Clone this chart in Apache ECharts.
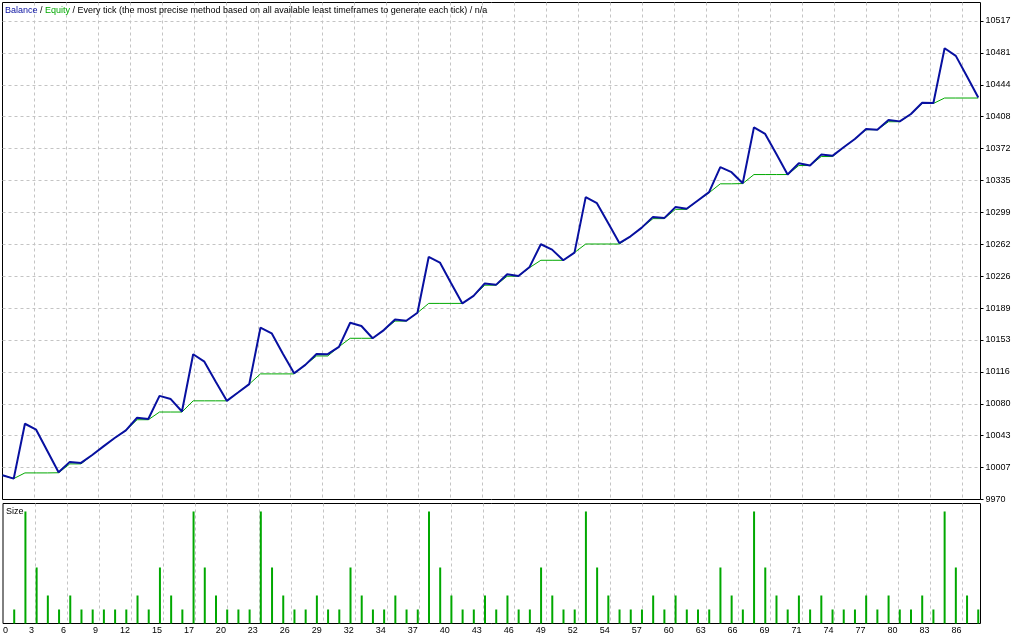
<!DOCTYPE html>
<html><head><meta charset="utf-8">
<script src="https://cdn.jsdelivr.net/npm/echarts@6/dist/echarts.min.js"></script>
<style>html,body{margin:0;padding:0;background:#fff;overflow:hidden}#c{width:1024px;height:640px}</style>
</head><body><div id="c"></div>
<script>
const titleParts = ['Balance', 'Equity', 'Every tick (the most precise method based on all available least timeframes to generate each tick)', 'n/a'];
const sizeLabel = 'Size';

const balance = [9998.0, 9994.2, 10056.9, 10050.1, 10025.8, 10001.4, 10013.3, 10012.1, 10021.2, 10031.0,
  10040.6, 10049.3, 10063.8, 10062.3, 10088.8, 10085.1, 10070.9, 10136.4, 10127.9, 10105.1,
  10083.1, 10092.6, 10102.2, 10166.7, 10160.3, 10137.0, 10114.7, 10124.2, 10136.7, 10136.4,
  10144.7, 10172.4, 10168.6, 10154.6, 10164.0, 10176.2, 10174.6, 10183.8, 10247.6, 10241.2,
  10217.6, 10194.5, 10203.1, 10217.3, 10215.7, 10227.9, 10225.9, 10236.2, 10262.1, 10256.0,
  10243.8, 10252.6, 10316.0, 10309.1, 10286.3, 10263.5, 10271.2, 10281.1, 10293.4, 10292.0,
  10304.6, 10302.7, 10312.2, 10321.7, 10350.2, 10344.5, 10331.9, 10395.7, 10388.2, 10365.4,
  10341.8, 10354.7, 10352.1, 10364.6, 10363.2, 10373.0, 10382.5, 10393.9, 10393.1, 10404.2,
  10402.6, 10411.0, 10423.9, 10423.6, 10486.2, 10477.5, 10453.9, 10429.9];

const equity = [9998.0, 9994.2, 10000.7, 10000.7, 10000.7, 10000.9, 10011.0, 10011.0, 10021.2, 10031.0,
  10040.6, 10049.3, 10061.5, 10061.5, 10070.3, 10070.3, 10070.3, 10083.1, 10083.1, 10083.1,
  10083.1, 10092.6, 10102.2, 10113.9, 10113.9, 10113.9, 10113.9, 10124.2, 10134.4, 10134.4,
  10145.0, 10154.6, 10154.6, 10154.6, 10164.0, 10174.3, 10174.3, 10183.8, 10194.5, 10194.5,
  10194.5, 10194.5, 10203.1, 10215.3, 10215.3, 10225.6, 10225.6, 10235.5, 10243.8, 10243.8,
  10243.8, 10252.6, 10262.4, 10262.4, 10262.4, 10262.4, 10271.2, 10281.1, 10291.4, 10291.4,
  10302.0, 10302.0, 10312.2, 10321.0, 10331.2, 10331.2, 10331.5, 10341.8, 10341.8, 10341.8,
  10341.8, 10352.1, 10352.1, 10362.4, 10362.4, 10373.0, 10382.5, 10393.1, 10393.1, 10402.2,
  10402.2, 10411.0, 10423.1, 10423.1, 10429.3, 10429.3, 10429.3, 10429.3];

const sizes = [null, 0.01, 0.08, 0.04, 0.02, 0.01, 0.02, 0.01, 0.01, 0.01,
  0.01, 0.01, 0.02, 0.01, 0.04, 0.02, 0.01, 0.08, 0.04, 0.02,
  0.01, 0.01, 0.01, 0.08, 0.04, 0.02, 0.01, 0.01, 0.02, 0.01,
  0.01, 0.04, 0.02, 0.01, 0.01, 0.02, 0.01, 0.01, 0.08, 0.04,
  0.02, 0.01, 0.01, 0.02, 0.01, 0.02, 0.01, 0.01, 0.04, 0.02,
  0.01, 0.01, 0.08, 0.04, 0.02, 0.01, 0.01, 0.01, 0.02, 0.01,
  0.02, 0.01, 0.01, 0.01, 0.04, 0.02, 0.01, 0.08, 0.04, 0.02,
  0.01, 0.02, 0.01, 0.02, 0.01, 0.01, 0.01, 0.02, 0.01, 0.02,
  0.01, 0.01, 0.02, 0.01, 0.08, 0.04, 0.02, 0.01];

const xTickLabels = ['0','3','6','9','12','15','17','20','23','26','29','32','34','37','40','43','46','49','52','54','57','60','63','66','69','71','74','77','80','83','86'];
const yTickLabels = ['9970','10007','10043','10080','10116','10153','10189','10226','10262','10299','10335','10372','10408','10444','10481','10517'];

// scale settings
const yMin = 9970.3, yStep = 36.47, mainH = 497, tickPxY = 31.9;
const yMax = yMin + yStep * mainH / tickPxY;
const plotW = 978, xMax = 87.2, tickPxX = 32;
const xStep = tickPxX * xMax / plotW;

const BLUE = '#0810a0', GREEN = '#00a800', GRID = '#c4c4c4';
const FONT = 'Liberation Sans';

const balData = balance.map((v, i) => [i, v]);
const eqData = equity.map((v, i) => [i, v]);
const sizeData = sizes.map((v, i) => [i, v == null ? '-' : v]);

function xLabel(v) {
  const k = v / xStep, r = Math.round(k);
  if (Math.abs(k - r) > 0.01 || r >= xTickLabels.length) return '';
  return xTickLabels[r];
}
function yLabel(v) {
  const r = Math.round(v);
  if (Math.abs(v - r) > 0.01 || r >= yTickLabels.length) return '';
  return yTickLabels[r];
}

const dashed = { show: true, showMinLine: false, showMaxLine: false, lineStyle: { color: GRID, type: [3, 3], width: 1 } };

const chart = echarts.init(document.getElementById('c'), null, { renderer: 'canvas' });
chart.setOption({
  animation: false,
  backgroundColor: '#fff',
  textStyle: { fontFamily: FONT },
  title: {
    left: 5, top: 6, padding: 0,
    text: '{b|' + titleParts[0] + '} / {e|' + titleParts[1] + '} / ' + titleParts[2] + ' / ' + titleParts[3],
    textStyle: {
      fontFamily: FONT, fontSize: 9, fontWeight: 'normal', color: '#000',
      rich: { b: { color: BLUE, fontFamily: FONT, fontSize: 9 }, e: { color: GREEN, fontFamily: FONT, fontSize: 9 } }
    }
  },
  graphic: [{
    type: 'text', left: 6, top: 507,
    style: { text: sizeLabel, fontFamily: FONT, fontSize: 9, fill: '#000' }
  }],
  grid: [
    { left: 2.5, top: 2.5, width: plotW, height: mainH, show: true, borderColor: '#000', borderWidth: 1, backgroundColor: '#fff' },
    { left: 2.5, top: 503.5, width: plotW, height: 120, show: true, borderColor: '#000', borderWidth: 1, backgroundColor: '#fff' }
  ],
  xAxis: [
    { type: 'value', gridIndex: 0, min: 0, max: xMax, interval: xStep,
      axisLine: { show: false }, axisTick: { show: false }, axisLabel: { show: false }, splitLine: dashed },
    { type: 'value', gridIndex: 1, min: 0, max: xMax, interval: xStep,
      axisLine: { show: false }, axisTick: { show: false }, splitLine: dashed,
      axisLabel: { formatter: xLabel, align: 'right', margin: 3, fontSize: 9, fontFamily: FONT, color: '#000',
        alignMinLabel: 'left', showMaxLabel: false, padding: [0, 1, 0, 0] } }
  ],
  yAxis: [
    { type: 'value', gridIndex: 0, min: yMin, max: yMax, show: false, splitLine: { show: false } },
    { type: 'value', gridIndex: 0, position: 'right', min: 0, max: mainH / tickPxY, interval: 1,
      axisLine: { show: false },
      axisTick: { show: true, length: 3, lineStyle: { color: '#000' } },
      axisLabel: { formatter: yLabel, margin: 5, fontSize: 9, fontFamily: FONT, color: '#000', showMaxLabel: false },
      splitLine: dashed },
    { type: 'value', gridIndex: 1, min: 0, max: 0.0857, show: false, splitLine: { show: false } }
  ],
  series: [
    { name: 'Equity', type: 'line', xAxisIndex: 0, yAxisIndex: 0, data: eqData, symbol: 'none',
      lineStyle: { color: GREEN, width: 1 }, z: 3 },
    { name: 'Balance', type: 'line', xAxisIndex: 0, yAxisIndex: 0, data: balData, symbol: 'none',
      lineStyle: { color: BLUE, width: 2 }, z: 4 },
    { name: 'Size', type: 'bar', xAxisIndex: 1, yAxisIndex: 2, data: sizeData, barWidth: 2,
      itemStyle: { color: GREEN }, z: 3 }
  ]
});
</script>
</body></html>
